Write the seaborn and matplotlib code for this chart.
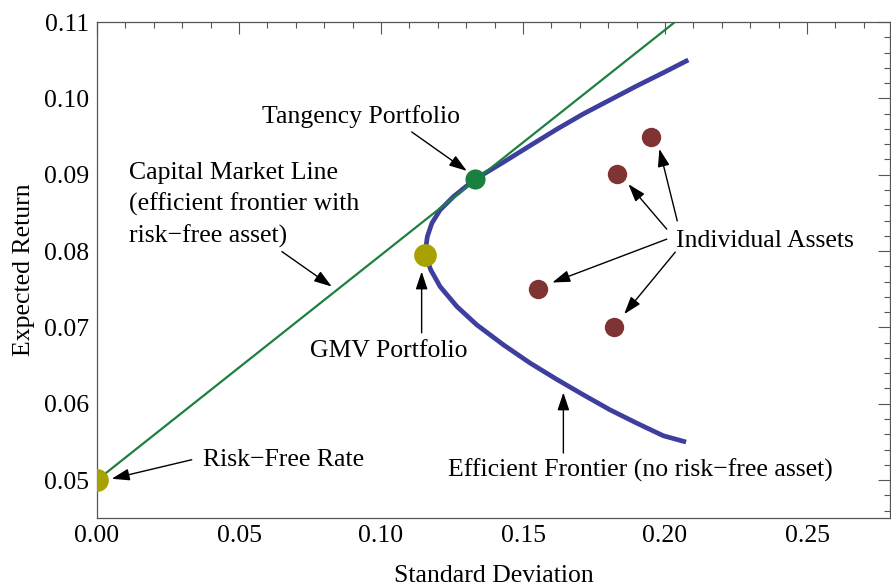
import numpy as np
import pandas as pd
import matplotlib
matplotlib.use("Agg")
import matplotlib.pyplot as plt
import seaborn as sns

# ---- data ----
# efficient frontier (no risk-free asset), ordered from low to high return
frontier_sd = [0.2074, 0.1994, 0.1900, 0.1806, 0.1712, 0.1619, 0.1525, 0.1431,
               0.1337, 0.1267, 0.1208, 0.1175, 0.1155, 0.1163, 0.1179, 0.1208,
               0.1255, 0.1331, 0.1431, 0.1525, 0.1619, 0.1712, 0.1806, 0.1900,
               0.1994, 0.2082]
frontier_ret = [0.05499, 0.05581, 0.05747, 0.05921, 0.06118, 0.06319, 0.06533, 0.06772,
                0.07034, 0.07274, 0.07535, 0.07754, 0.07963, 0.08189, 0.08365, 0.08539,
                0.08713, 0.08941, 0.09164, 0.09381, 0.09596, 0.09796, 0.09979, 0.10162,
                0.10336, 0.10503]

# capital market line
cml_sd = [0.0, 0.2035]
cml_ret = [0.05, 0.11]

# special portfolios
rf_sd, rf_ret = [0.0], [0.05]
gmv_sd, gmv_ret = [0.1155], [0.0795]
tan_sd, tan_ret = [0.1331], [0.0894]

# individual assets
asset_sd = [0.1952, 0.1831, 0.1552, 0.1820]
asset_ret = [0.0950, 0.0901, 0.0750, 0.0700]

x_ticks = [0.00, 0.05, 0.10, 0.15, 0.20, 0.25]
x_tick_labels = ["0.00", "0.05", "0.10", "0.15", "0.20", "0.25"]
y_ticks = [0.05, 0.06, 0.07, 0.08, 0.09, 0.10, 0.11]
y_tick_labels = ["0.05", "0.06", "0.07", "0.08", "0.09", "0.10", "0.11"]

# ---- style ----
sns.set_theme(style="white")
plt.rcParams["font.family"] = ["Liberation Serif", "DejaVu Serif"]

FS = 18.5
C_FRONT = "#3e3e9f"
C_CML = "#1e8040"
C_TAN = "#1a8040"
C_GMV = "#a8a200"
C_ASSET = "#803333"
C_FRAME = "#555555"

fig = plt.figure(figsize=(8.91, 5.87), dpi=100)
ax = fig.add_axes([97 / 891, 1 - 518.3 / 587, (890 - 97) / 891, (518.3 - 22) / 587])

df_front = pd.DataFrame({"sd": frontier_sd, "ret": frontier_ret})
sns.lineplot(data=df_front, x="sd", y="ret", sort=False, estimator=None,
             errorbar=None, color=C_FRONT, lw=3.4, ax=ax, zorder=2,
             solid_joinstyle="round", solid_capstyle="butt")
sns.lineplot(x=cml_sd, y=cml_ret, sort=False, estimator=None, errorbar=None,
             color=C_CML, lw=1.6, ax=ax, zorder=3)

sns.scatterplot(x=asset_sd, y=asset_ret, color=C_ASSET, s=195, linewidth=0, ax=ax, zorder=4)
sns.scatterplot(x=gmv_sd, y=gmv_ret, color=C_GMV, s=268, linewidth=0, ax=ax, zorder=4)
sns.scatterplot(x=rf_sd, y=rf_ret, color=C_GMV, s=268, linewidth=0, ax=ax, zorder=4)
sns.scatterplot(x=tan_sd, y=tan_ret, color=C_TAN, s=210, linewidth=0, ax=ax, zorder=5)

ax.set_xlim(0, 0.2792)
ax.set_ylim(0.045, 0.11)
ax.set_xticks(x_ticks)
ax.set_xticklabels(x_tick_labels)
ax.set_yticks(y_ticks)
ax.set_yticklabels(y_tick_labels)
ax.set_xticks(np.arange(0, 0.2792, 0.01), minor=True)
ax.set_yticks(np.arange(0.046, 0.1101, 0.002), minor=True)

ax.tick_params(which="both", direction="in", top=True, right=True,
               colors=C_FRAME, labelcolor="black", labelsize=FS)
ax.tick_params(which="major", length=8.5, width=0.8)
ax.tick_params(which="minor", length=4.5, width=0.8)
ax.tick_params(axis="y", which="major", pad=6)
ax.tick_params(axis="x", which="major", pad=5)
for sp in ax.spines.values():
    sp.set_color(C_FRAME)
    sp.set_linewidth(0.9)

ax.set_xlabel("Standard Deviation", fontsize=FS, color="black")
ax.set_ylabel("Expected Return", fontsize=FS, color="black")
ax.xaxis.set_label_coords(0.5, -0.094)
ax.yaxis.set_label_coords(-0.078, 0.5)

aprops = dict(arrowstyle="-|>,head_length=0.6,head_width=0.2", color="black",
              lw=1.0, mutation_scale=18, shrinkA=0, shrinkB=0)

def arrow(x0, y0, x1, y1):
    ax.annotate("", xy=(x1, y1), xytext=(x0, y0), arrowprops=aprops, zorder=6)

def label(x, y, s):
    ax.text(x, y, s, fontsize=FS, color="black", ha="left", va="baseline", zorder=6)

label(0.0581, 0.09674, "Tangency Portfolio")
arrow(0.1108, 0.0956, 0.1302, 0.0905)

label(0.01127, 0.08945, "Capital Market Line")
label(0.01127, 0.0853, "(efficient frontier with")
label(0.01127, 0.08117, "risk\u2212free asset)")
arrow(0.0651, 0.07993, 0.08264, 0.07535)

label(0.0750, 0.06619, "GMV Portfolio")
arrow(0.1143, 0.06929, 0.1143, 0.07732)

label(0.03732, 0.0518, "Risk\u2212Free Rate")
arrow(0.03335, 0.05267, 0.00518, 0.05018)

label(0.2039, 0.08059, "Individual Assets")
arrow(0.2043, 0.08395, 0.1980, 0.09338)
arrow(0.2006, 0.08287, 0.1871, 0.08876)
arrow(0.2006, 0.08156, 0.1603, 0.07588)
arrow(0.2036, 0.07986, 0.1856, 0.07174)

label(0.1235, 0.05049, "Efficient Frontier (no risk\u2212free asset)")
arrow(0.1642, 0.05355, 0.1642, 0.06148)

fig.savefig("out.png", dpi=100)
